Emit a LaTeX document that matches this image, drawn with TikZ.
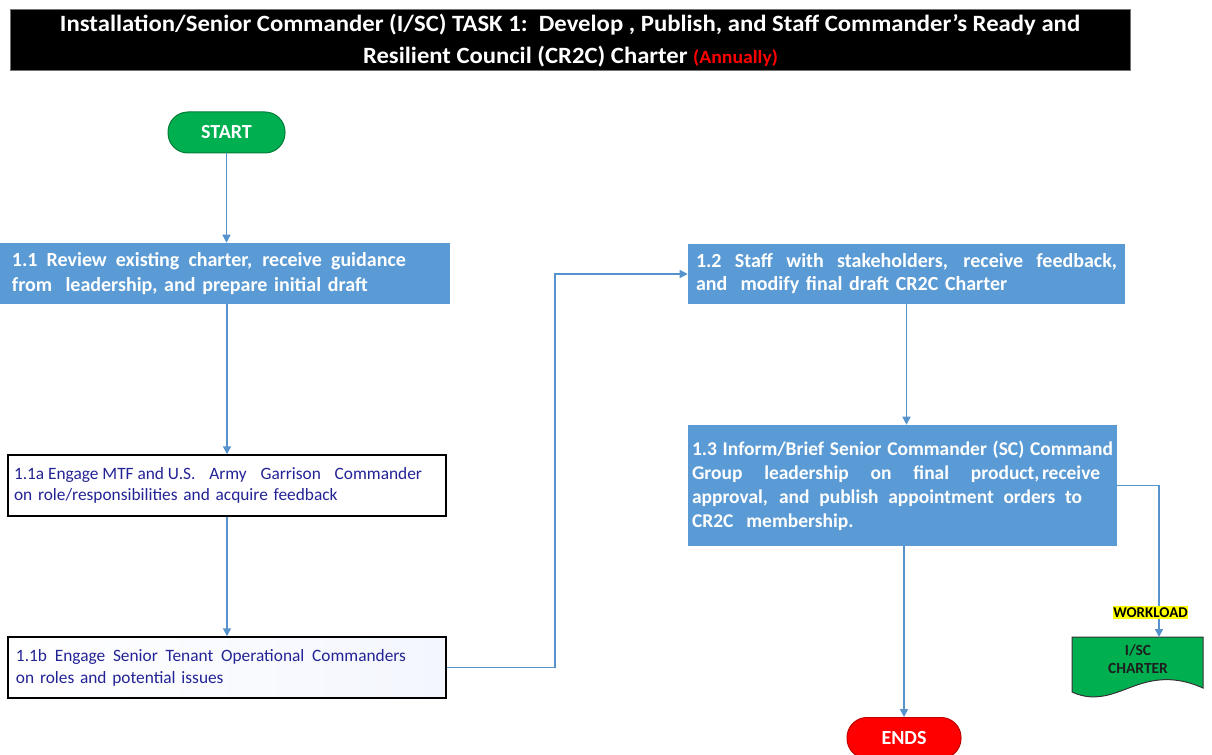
\documentclass[tikz,border=0pt]{standalone}
\usepackage{fontspec}
\usepackage{graphicx}
\setmainfont{Carlito}
\usetikzlibrary{arrows.meta}

% one drawing unit = one pixel of the chart
\newdimen\px \px=0.75pt
% a line of words spread evenly over a given width
\newcommand\jline[2]{\leavevmode\hbox to #1{\spaceskip=0.226em plus 1fil\relax
  \xspaceskip=\spaceskip #2}}
% a word gap that keeps its natural size inside \jline
\newcommand\fixgap{\hspace{0.226em}}

\definecolor{stepblue}{RGB}{91,155,213}
\definecolor{linkblue}{RGB}{86,146,204}
\definecolor{navytext}{RGB}{35,35,150}
\definecolor{startgreen}{RGB}{0,176,80}
\definecolor{endred}{RGB}{255,0,0}
\definecolor{paleblue}{RGB}{243,246,253}
\definecolor{marker}{RGB}{255,255,0}
\definecolor{doctext}{RGB}{30,30,30}

\tikzset{
  link/.style={draw=linkblue, line width=1.1pt,
    -{Triangle[width=6pt,length=6pt]}},
  bluestep/.style={rectangle, fill=stepblue, text=white, align=left,
    inner ysep=0pt, font=\fontsize{15}{18}\selectfont\bfseries},
  whitestep/.style={rectangle, draw=black, line width=1.1pt, text=navytext,
    align=left, inner ysep=0pt, font=\fontsize{13}{15.75}\selectfont},
  pill/.style={rectangle, rounded corners=15pt, text=white,
    minimum height=30.75pt, inner sep=0pt,
    font=\fontsize{15}{15}\selectfont\bfseries},
  titletext/.style={anchor=base, text=white, inner sep=0pt,
    font=\fontsize{17.5}{17.5}\selectfont\bfseries},
}

\begin{document}
\begin{tikzpicture}[x=0.75pt, y=-0.75pt]
\useasboundingbox (0,0) rectangle (1212,755);
\clip (0,0) rectangle (1212,755);

% heading bar
\node[fill=black, draw=black!55, line width=0.75pt, minimum width=840pt,
  minimum height=45.75pt, inner sep=0pt] (titlebar) at (570,40.5) {};
\node[titletext] (title1) at (570,32)
  {\resizebox{1020\px}{\height}{Installation/Senior Commander (I/SC) TASK 1:\ \ Develop , Publish, and Staff Commander's Ready and}};
\node[titletext] (title2) at (570.5,64)
  {\resizebox{415\px}{\height}{Resilient Council (CR2C) Charter \textcolor{red}{\fontsize{14}{14}\selectfont(Annually)}}};

% terminals
\node[pill, fill=startgreen, draw=startgreen!70!black, line width=0.75pt,
  minimum width=87.75pt] (start) at (226.5,132.5) {START};
\node[pill, fill=endred, draw=endred!75!black, line width=0.75pt,
  minimum width=85.5pt] (ends) at (904,738) {ENDS};

% process steps
\node[bluestep, minimum width=337.5pt, minimum height=45.75pt,
  text width=319.5pt, inner xsep=9pt,
  font=\fontsize{15}{18.75}\selectfont\bfseries] (n11) at (225,273.5)
  {\jline{394\px}{1.1 Review existing charter, receive guidance}\\
   from\ \ leadership, and prepare initial draft};

\node[whitestep, fill=white, minimum width=328.5pt, minimum height=45.75pt,
  text width=319.5pt, inner xsep=4.5pt] (n11a) at (227,485.5)
  {\jline{408\px}{1.1a\fixgap Engage\fixgap MTF\fixgap and\fixgap U.S. Army Garrison Commander}\\
   on role/responsibilities and acquire feedback};

\node[whitestep, left color=white, right color=paleblue,
  minimum width=328.5pt, minimum height=45.75pt,
  text width=316.5pt, inner xsep=6pt,
  font=\fontsize{13}{16.5}\selectfont] (n11b) at (227,667.5)
  {\jline{390\px}{1.1b Engage Senior Tenant Operational Commanders}\\
   on roles and potential issues};

\node[bluestep, minimum width=327.75pt, minimum height=45pt,
  text width=315.75pt, inner xsep=6pt,
  font=\fontsize{15}{17.25}\selectfont\bfseries] (n12) at (906.5,274)
  {\jline{421\px}{1.2 Staff with stakeholders, receive feedback,}\\
   and\ \ modify final draft CR2C Charter};

\node[bluestep, minimum width=321.75pt, minimum height=90.75pt,
  text width=315.75pt, inner xsep=3pt,
  font=\fontsize{14.6}{18}\selectfont\bfseries] (n13) at (902.5,485.5)
  {\jline{421\px}{1.3 Inform/Brief Senior Commander (SC) Command}\\
   \jline{408\px}{Group leadership on final product,\kern2pt receive}\\
   \jline{390\px}{approval, and publish appointment orders to}\\
   CR2C\ \ membership.};

% output document with wavy lower edge
\path[draw=black!80, line width=0.75pt, fill=startgreen]
  (1072,637) -- (1203,637) -- (1203,688)
  .. controls (1185,680) and (1165,676) .. (1140,684)
  .. controls (1118,691) and (1098,704) .. (1072,692) -- cycle;
\node[text=doctext, align=center, inner sep=0pt,
  font=\fontsize{11.6}{13.5}\selectfont\bfseries] (doc) at (1138,659)
  {I/SC\\CHARTER};
\coordinate (doctop) at (1159,637);
\coordinate (bend) at (555,0);

% connectors
\draw[link] (start.south) -- (start.south |- n11.north);
\draw[link] (n11.south -| n11a.north) -- (n11a.north);
\draw[link] (n11a.south) -- (n11b.north);
\draw[link] (n11b.east) -- (n11b.east -| bend) -- (bend |- n12.west) -- (n12.west);
\draw[link] (n12.south) -- (n12.south |- n13.north);
\draw[link] (n13.south -| ends.north) -- (ends.north);
\draw[link] (n13.east) -| (doctop);

\node[fill=marker, inner xsep=0.4pt, inner ysep=1.1pt, text=black,
  font=\fontsize{11.2}{11.2}\selectfont\bfseries] (workload) at (1150.5,612.5)
  {WORKLOAD};
\end{tikzpicture}
\end{document}
